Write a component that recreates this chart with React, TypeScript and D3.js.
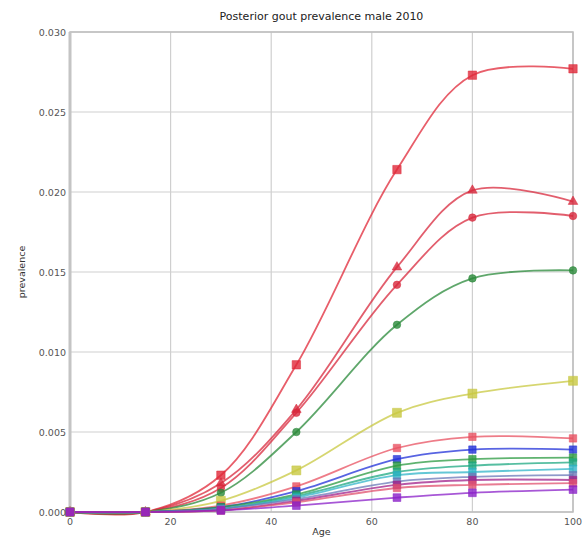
import React, { useEffect, useRef } from 'react';
import * as d3 from 'd3';

const ages = [0, 15, 30, 45, 65, 80, 100];
const xTicks = [0, 20, 40, 60, 80, 100];
const yTicks = [0, 0.005, 0.01, 0.015, 0.02, 0.025, 0.03];

const redSquare = [0, 0, 0.0023, 0.0092, 0.0214, 0.0273, 0.0277];
const redTriangle = [0, 0, 0.0018, 0.0064, 0.0153, 0.0201, 0.0194];
const redCircle = [0, 0, 0.0015, 0.0062, 0.0142, 0.0184, 0.0185];
const greenCircle = [0, 0, 0.0012, 0.005, 0.0117, 0.0146, 0.0151];
const yellowSquare = [0, 0, 0.0007, 0.0026, 0.0062, 0.0074, 0.0082];
const lightRed = [0, 0, 0.0004, 0.0016, 0.004, 0.0047, 0.0046];
const blue = [0, 0, 0.0003, 0.0013, 0.0033, 0.0039, 0.0039];
const green = [0, 0, 0.0003, 0.0011, 0.0029, 0.0033, 0.0034];
const teal = [0, 0, 0.0002, 0.001, 0.0025, 0.0029, 0.0031];
const cyan = [0, 0, 0.0002, 0.0009, 0.0023, 0.0025, 0.0027];
const slate = [0, 0, 0.0002, 0.0008, 0.0019, 0.0022, 0.0023];
const magenta = [0, 0, 0.0001, 0.0007, 0.0017, 0.002, 0.002];
const pink = [0, 0, 0.0001, 0.0006, 0.0015, 0.0017, 0.0018];
const purple = [0, 0, 0.0001, 0.0004, 0.0009, 0.0012, 0.0014];

const series = [
  { values: redSquare, color: '#e02838', symbol: d3.symbolSquare, size: 70 },
  { values: redTriangle, color: '#d8283c', symbol: d3.symbolTriangle, size: 40 },
  { values: redCircle, color: '#d8283c', symbol: d3.symbolCircle, size: 45 },
  { values: greenCircle, color: '#2a8a3a', symbol: d3.symbolCircle, size: 45 },
  { values: yellowSquare, color: '#c8c840', symbol: d3.symbolSquare, size: 80 },
  { values: lightRed, color: '#e85060', symbol: d3.symbolSquare, size: 55 },
  { values: blue, color: '#2030d8', symbol: d3.symbolSquare, size: 55 },
  { values: green, color: '#2a9a40', symbol: d3.symbolSquare, size: 55 },
  { values: teal, color: '#1ea882', symbol: d3.symbolSquare, size: 55 },
  { values: cyan, color: '#30b4c8', symbol: d3.symbolSquare, size: 55 },
  { values: slate, color: '#6a78b8', symbol: d3.symbolSquare, size: 55 },
  { values: magenta, color: '#a0208a', symbol: d3.symbolSquare, size: 55 },
  { values: pink, color: '#e0506e', symbol: d3.symbolSquare, size: 55 },
  { values: purple, color: '#8a1fc8', symbol: d3.symbolSquare, size: 60 },
];

const W = 587;
const H = 537;
const margin = { top: 32, right: 14, bottom: 25, left: 70 };

export default function App() {
  const svgRef = useRef<SVGSVGElement>(null);

  useEffect(() => {
    if (!svgRef.current) return;
    const svg = d3.select(svgRef.current);
    svg.selectAll('*').remove();

    const x = d3.scaleLinear().domain([0, 100]).range([margin.left, W - margin.right]);
    const y = d3.scaleLinear().domain([0, 0.03]).range([H - margin.bottom, margin.top]);

    // grid
    const grid = svg.append('g');
    xTicks.forEach(t => {
      grid.append('line')
        .attr('x1', x(t)).attr('x2', x(t))
        .attr('y1', y(0)).attr('y2', y(0.03))
        .attr('stroke', '#cfcfcf').attr('stroke-width', 1.2);
    });
    yTicks.forEach(t => {
      grid.append('line')
        .attr('x1', x(0)).attr('x2', x(100))
        .attr('y1', y(t)).attr('y2', y(t))
        .attr('stroke', '#cfcfcf').attr('stroke-width', 1.2);
    });

    // frame
    svg.append('rect')
      .attr('x', x(0)).attr('y', y(0.03))
      .attr('width', x(100) - x(0)).attr('height', y(0) - y(0.03))
      .attr('fill', 'none').attr('stroke', '#bdbdbd').attr('stroke-width', 1.5);
    svg.append('line')
      .attr('x1', x(0)).attr('x2', x(0)).attr('y1', y(0)).attr('y2', y(0.03))
      .attr('stroke', '#c4c4c4').attr('stroke-width', 3);

    const line = d3.line<number>()
      .x((_, i) => x(ages[i]))
      .y(d => y(d))
      .curve(d3.curveCatmullRom.alpha(0.5));

    const plot = svg.append('g');
    series.forEach(s => {
      plot.append('path')
        .attr('d', line(s.values))
        .attr('fill', 'none')
        .attr('stroke', s.color)
        .attr('stroke-width', 1.8)
        .attr('stroke-opacity', 0.75);
    });
    series.forEach(s => {
      plot.selectAll(null)
        .data(s.values)
        .enter()
        .append('path')
        .attr('d', d3.symbol().type(s.symbol).size(s.size)())
        .attr('transform', (d, i) => `translate(${x(ages[i])},${y(d)})`)
        .attr('fill', s.color)
        .attr('fill-opacity', 0.8)
        .attr('stroke', s.color)
        .attr('stroke-opacity', 0.5);
    });

    // axes labels
    const font = 'DejaVu Sans, sans-serif';
    svg.append('g').selectAll('text')
      .data(yTicks).enter().append('text')
      .attr('x', x(0) - 4).attr('y', d => y(d) + 3.5)
      .attr('text-anchor', 'end')
      .attr('font-family', font).attr('font-size', 9.5).attr('fill', '#555')
      .text(d => d3.format('.3f')(d));
    svg.append('g').selectAll('text')
      .data(xTicks).enter().append('text')
      .attr('x', d => x(d)).attr('y', y(0) + 13)
      .attr('text-anchor', 'middle')
      .attr('font-family', font).attr('font-size', 9.5).attr('fill', '#555')
      .text(d => String(d));

    svg.append('text')
      .attr('x', (x(0) + x(100)) / 2).attr('y', 20)
      .attr('text-anchor', 'middle')
      .attr('font-family', font).attr('font-size', 11).attr('fill', '#222')
      .text('Posterior gout prevalence male 2010');
    svg.append('text')
      .attr('x', (x(0) + x(100)) / 2).attr('y', 535)
      .attr('text-anchor', 'middle')
      .attr('font-family', font).attr('font-size', 9.5).attr('fill', '#333')
      .text('Age');
    svg.append('text')
      .attr('transform', `translate(25,${(y(0) + y(0.03)) / 2}) rotate(-90)`)
      .attr('text-anchor', 'middle')
      .attr('font-family', font).attr('font-size', 9.5).attr('fill', '#333')
      .text('prevalence');
  }, []);

  return (
    <div style={{ position: 'absolute', left: 0, top: 0 }}>
      <svg ref={svgRef} width={W} height={H} style={{ display: 'block', background: '#fff' }} />
    </div>
  );
}
